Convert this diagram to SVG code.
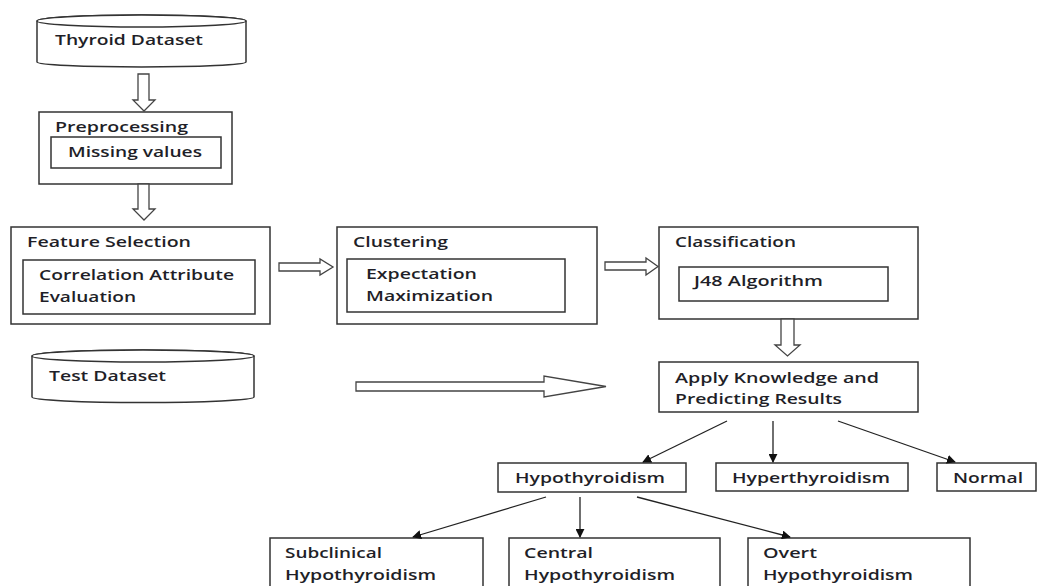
<svg xmlns="http://www.w3.org/2000/svg" width="1043" height="586" viewBox="0 0 1043 586">
<style>
.box{fill:#fff;stroke:#333;stroke-width:1.5}
.blk{fill:#fff;stroke:#444;stroke-width:1.3}
.t{font-family:"Open Sans","Liberation Sans",sans-serif;font-size:15px;font-weight:600;fill:#1f1f28}
.ln{stroke:#222;stroke-width:1.3;fill:none;marker-end:url(#ah)}
</style>
<defs>
<marker id="ah" viewBox="0 0 10 10" refX="9" refY="5" markerWidth="9" markerHeight="9" markerUnits="userSpaceOnUse" orient="auto"><path d="M0,0 L10,5 L0,10 z" fill="#111"/></marker>
</defs>
<rect width="1043" height="586" fill="#fff"/>
<g id="thyroid">
<path class="box" d="M37,21 A104.5,6 0 0 1 246,21 V62 A104.5,5 0 0 1 37,62 Z"/>
<ellipse class="box" cx="141.5" cy="21" rx="104.5" ry="6"/>
<text class="t" x="55" y="45" textLength="148" lengthAdjust="spacingAndGlyphs">Thyroid Dataset</text>
</g>
<g id="preprocessing">
<rect class="box" x="39" y="112" width="193" height="72"/>
<text class="t" x="55" y="132" textLength="133" lengthAdjust="spacingAndGlyphs">Preprocessing</text>
<rect class="box" x="51" y="137" width="170" height="31"/>
<text class="t" x="68" y="157" textLength="134" lengthAdjust="spacingAndGlyphs">Missing values</text>
</g>
<g id="feature">
<rect class="box" x="11" y="227" width="259" height="97"/>
<text class="t" x="27" y="247" textLength="164" lengthAdjust="spacingAndGlyphs">Feature Selection</text>
<rect class="box" x="23" y="260" width="232" height="54"/>
<text class="t" x="39" y="280" textLength="195" lengthAdjust="spacingAndGlyphs">Correlation Attribute</text>
<text class="t" x="39" y="302" textLength="97" lengthAdjust="spacingAndGlyphs">Evaluation</text>
</g>
<g id="clustering">
<rect class="box" x="337" y="227" width="260" height="97"/>
<text class="t" x="353" y="247" textLength="95" lengthAdjust="spacingAndGlyphs">Clustering</text>
<rect class="box" x="347" y="259" width="218" height="53"/>
<text class="t" x="366" y="279" textLength="111" lengthAdjust="spacingAndGlyphs">Expectation</text>
<text class="t" x="366" y="301" textLength="127" lengthAdjust="spacingAndGlyphs">Maximization</text>
</g>
<g id="classification">
<rect class="box" x="659" y="227" width="259" height="92"/>
<text class="t" x="675" y="247" textLength="121" lengthAdjust="spacingAndGlyphs">Classification</text>
<rect class="box" x="679" y="267" width="209" height="34"/>
<text class="t" x="694" y="286" textLength="129" lengthAdjust="spacingAndGlyphs">J48 Algorithm</text>
</g>
<g id="test">
<path class="box" d="M32,356 A111,6 0 0 1 254,356 V397 A111,5.5 0 0 1 32,397 Z"/>
<ellipse class="box" cx="143" cy="356" rx="111" ry="6"/>
<text class="t" x="49" y="381" textLength="117" lengthAdjust="spacingAndGlyphs">Test Dataset</text>
</g>
<g id="apply">
<rect class="box" x="659" y="362" width="259" height="50"/>
<text class="t" x="675" y="383" textLength="204" lengthAdjust="spacingAndGlyphs">Apply Knowledge and</text>
<text class="t" x="675" y="404" textLength="167" lengthAdjust="spacingAndGlyphs">Predicting Results</text>
</g>
<g id="hypo">
<rect class="box" x="498" y="463" width="188" height="29"/>
<text class="t" x="515" y="483" textLength="150" lengthAdjust="spacingAndGlyphs">Hypothyroidism</text>
</g>
<g id="hyper">
<rect class="box" x="716" y="463" width="192" height="28"/>
<text class="t" x="732" y="483" textLength="158" lengthAdjust="spacingAndGlyphs">Hyperthyroidism</text>
</g>
<g id="normal">
<rect class="box" x="937" y="463" width="99" height="28"/>
<text class="t" x="953" y="483" textLength="70" lengthAdjust="spacingAndGlyphs">Normal</text>
</g>
<g id="subclinical">
<rect class="box" x="270" y="538" width="213" height="60"/>
<text class="t" x="285" y="558" textLength="97" lengthAdjust="spacingAndGlyphs">Subclinical</text>
<text class="t" x="285" y="580" textLength="151" lengthAdjust="spacingAndGlyphs">Hypothyroidism</text>
</g>
<g id="central">
<rect class="box" x="509" y="538" width="211" height="60"/>
<text class="t" x="524" y="558" textLength="69" lengthAdjust="spacingAndGlyphs">Central</text>
<text class="t" x="524" y="580" textLength="151" lengthAdjust="spacingAndGlyphs">Hypothyroidism</text>
</g>
<g id="overt">
<rect class="box" x="748" y="538" width="222" height="60"/>
<text class="t" x="763" y="558" textLength="54" lengthAdjust="spacingAndGlyphs">Overt</text>
<text class="t" x="763" y="580" textLength="150" lengthAdjust="spacingAndGlyphs">Hypothyroidism</text>
</g>
<g id="connectors">
<path class="blk" d="M138,74 H149 V100 H155 L144,111 L133,100 H138 Z"/>
<path class="blk" d="M138,184 H149 V209 H155 L144,220 L133,209 H138 Z"/>
<path class="blk" d="M279,263 H320 V259 L333,267 L320,275 V271 H279 Z"/>
<path class="blk" d="M605,262 H646 V258 L658,266.5 L646,275 V270 H605 Z"/>
<path class="blk" d="M781,319 H794 V345 H800 L787.5,356 L775,345 H781 Z"/>
<path class="blk" d="M356,382 H544 V376 L606,386.5 L544,397 V391 H356 Z"/>
<line class="ln" x1="727" y1="421" x2="643" y2="462"/>
<line class="ln" x1="773" y1="421" x2="773" y2="462"/>
<line class="ln" x1="838" y1="421" x2="955" y2="462"/>
<line class="ln" x1="546" y1="497" x2="413" y2="537"/>
<line class="ln" x1="580" y1="497" x2="580" y2="537"/>
<line class="ln" x1="637" y1="497" x2="790" y2="537"/>
</g>
</svg>
